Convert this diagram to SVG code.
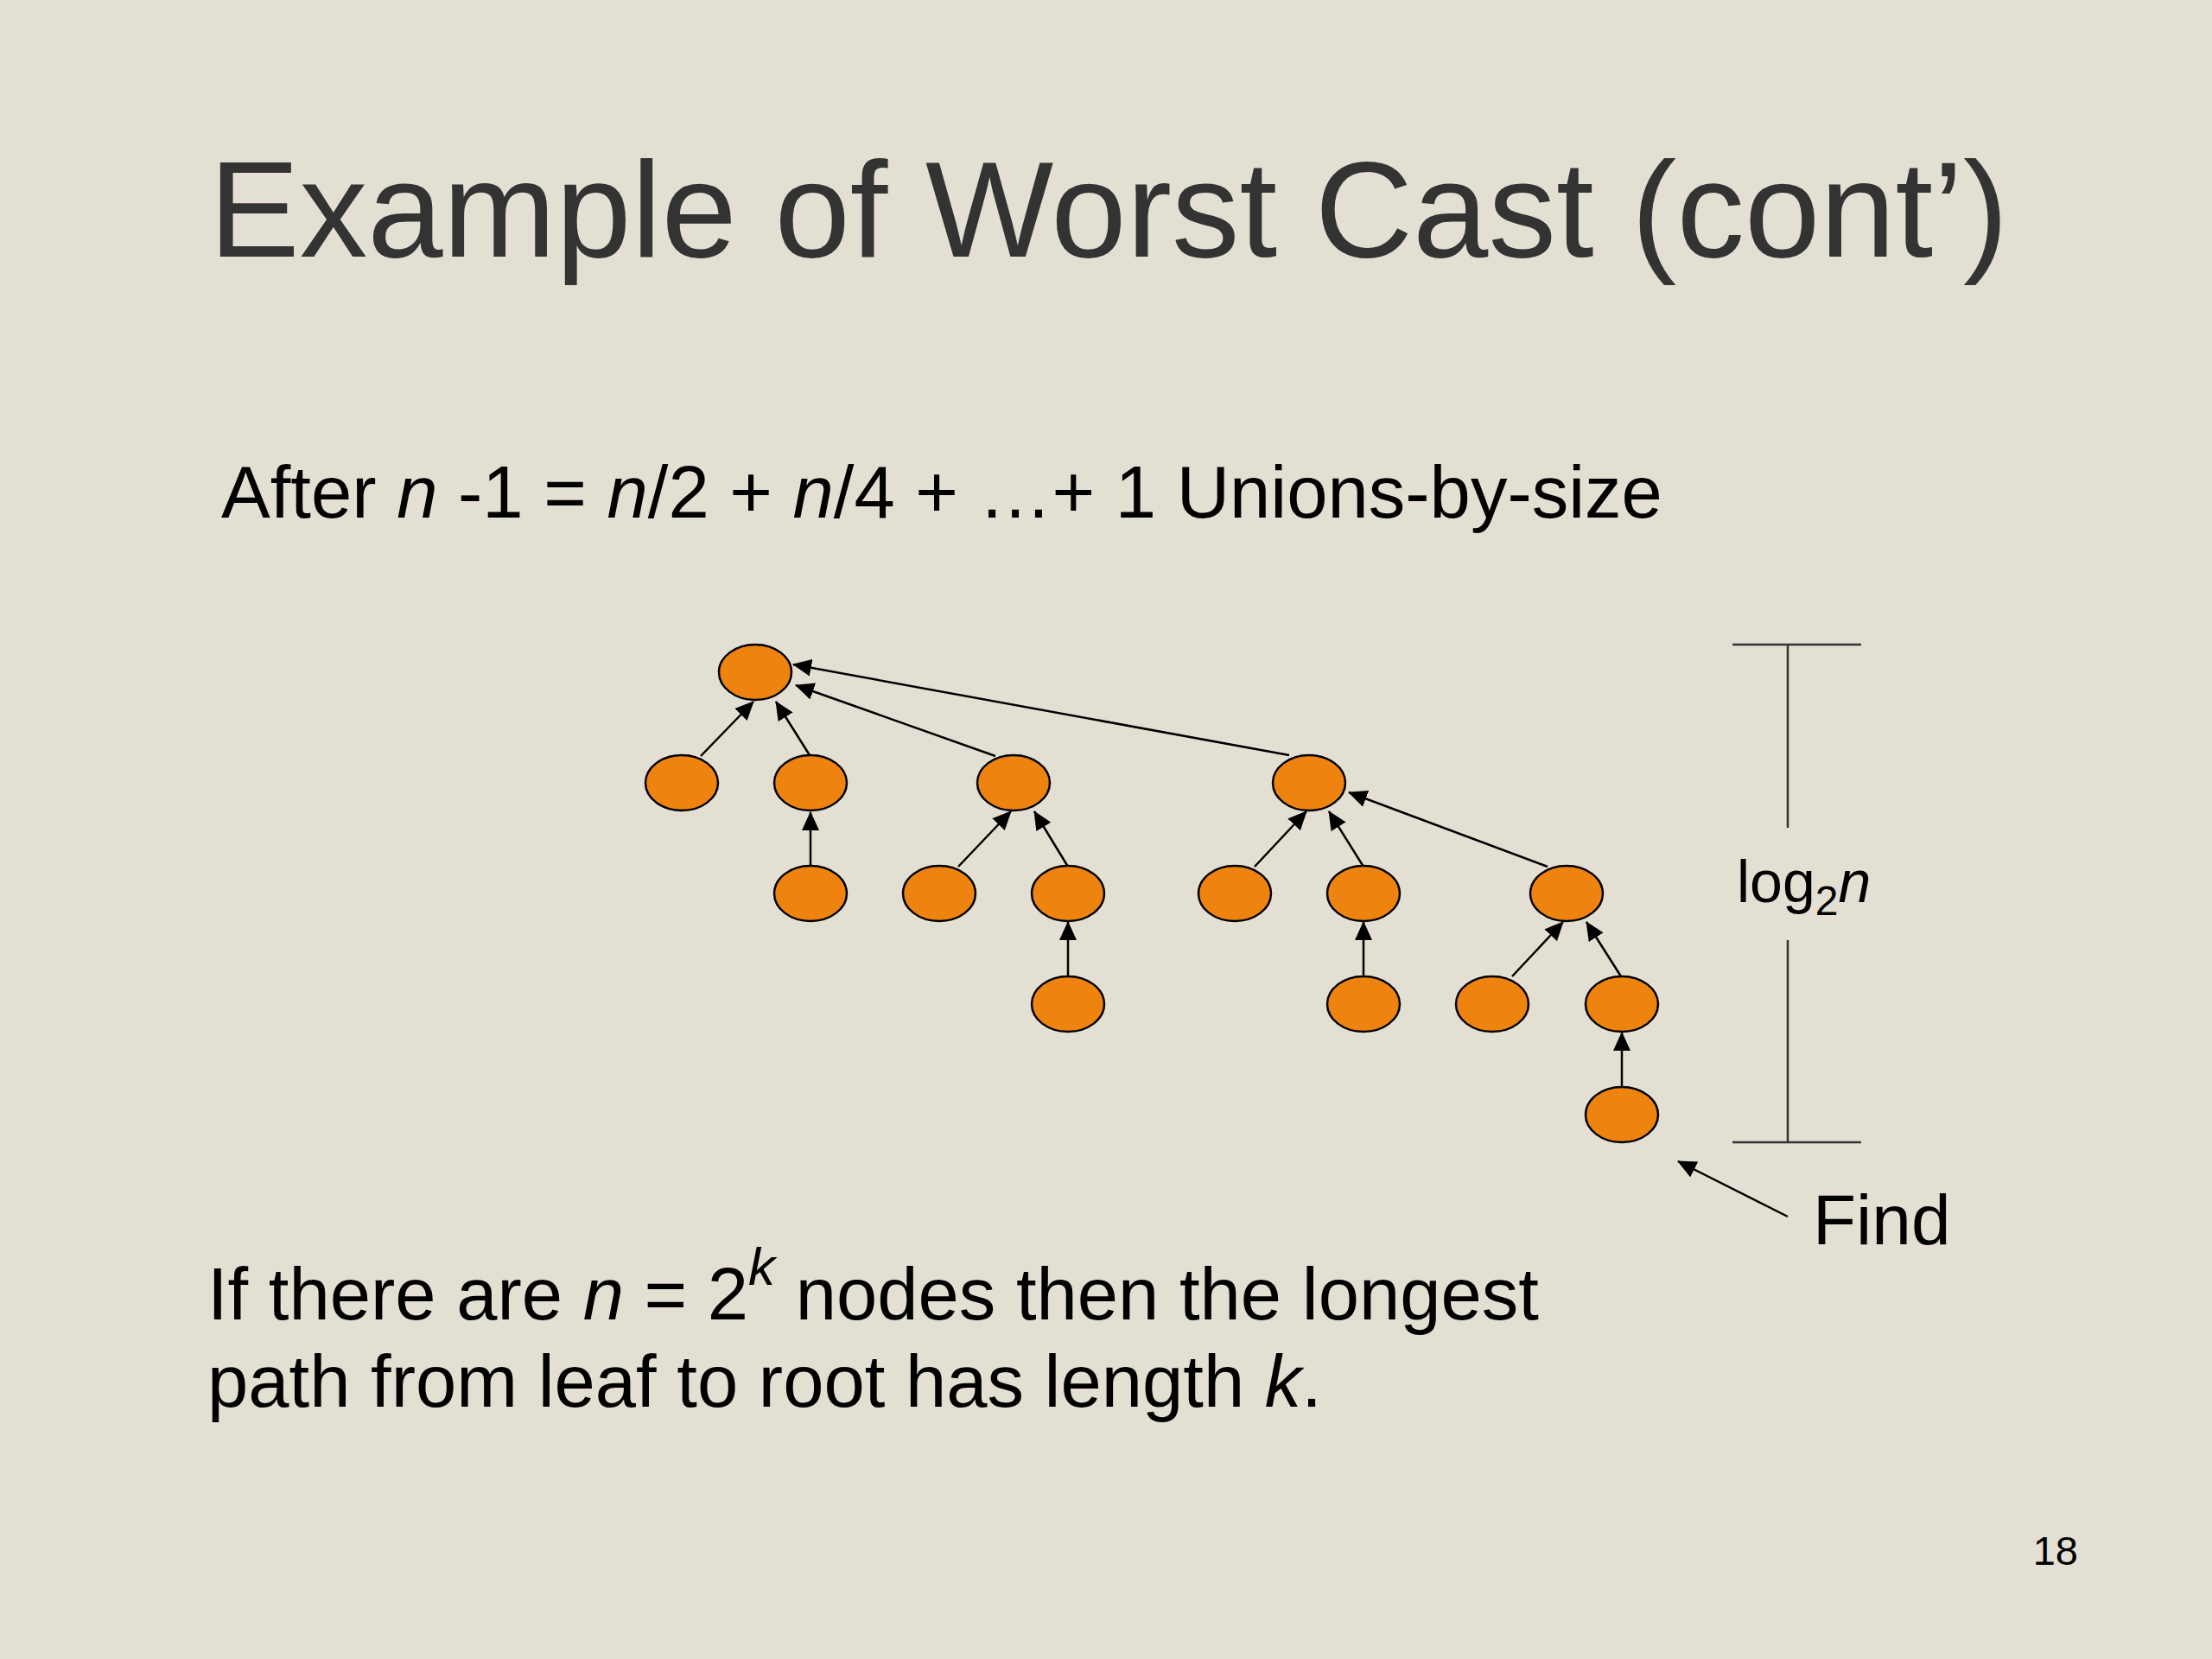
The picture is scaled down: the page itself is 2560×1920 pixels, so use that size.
<svg xmlns="http://www.w3.org/2000/svg" width="2560" height="1920" viewBox="0 0 2560 1920">
<defs>
<style>
.bg{fill:#E3DFD3}
.title{font-family:"Liberation Sans",Arial,sans-serif;font-size:157px;fill:#333333}
.body{font-family:"Liberation Sans",Arial,sans-serif;font-size:85px;fill:#000}
.lbl{font-family:"Liberation Sans",Arial,sans-serif;fill:#000}
.node{fill:#EE840F;stroke:#000;stroke-width:2.5}
.edge{stroke:#000;stroke-width:2.5;fill:none;marker-end:url(#ah)}
.bar{stroke:#333;stroke-width:2.5;fill:none}
</style>
<marker id="ah" markerUnits="userSpaceOnUse" markerWidth="22" markerHeight="20" refX="21" refY="10" orient="auto" viewBox="0 0 22 20">
<path d="M0,0 L22,10 L0,20 z" fill="#000"/>
</marker>
</defs>
<rect class="bg" x="0" y="0" width="2560" height="1920"/>
<text class="title" x="242" y="297">Example of Worst Cast (cont’)</text>
<text class="body" x="256" y="599">After <tspan font-style="italic">n</tspan> -1 = <tspan font-style="italic">n</tspan>/2 + <tspan font-style="italic">n</tspan>/4 + …+ 1 Unions-by-size</text>
<text class="body" x="240" y="1527">If there are <tspan font-style="italic">n</tspan> = 2<tspan font-style="italic" font-size="62" dy="-40">k</tspan><tspan dy="40"> nodes then the longest</tspan></text>
<text class="body" x="240" y="1628">path from leaf to root has length <tspan font-style="italic">k</tspan>.</text>
<text class="lbl" x="2405" y="1811" font-size="47" text-anchor="end">18</text>

<g id="connectors">
<line class="edge" x1="811" y1="875" x2="872" y2="812"/>
<line class="edge" x1="937" y1="874" x2="898" y2="812"/>
<line class="edge" x1="1152" y1="875" x2="921" y2="793"/>
<line class="edge" x1="1492" y1="874" x2="918" y2="769"/>
<line class="edge" x1="938" y1="1002" x2="938" y2="940"/>
<line class="edge" x1="1109" y1="1003" x2="1170" y2="939"/>
<line class="edge" x1="1236" y1="1003" x2="1197" y2="939"/>
<line class="edge" x1="1236" y1="1130" x2="1236" y2="1067"/>
<line class="edge" x1="1452" y1="1003" x2="1512" y2="939"/>
<line class="edge" x1="1578" y1="1003" x2="1538" y2="939"/>
<line class="edge" x1="1578" y1="1130" x2="1578" y2="1067"/>
<line class="edge" x1="1791" y1="1003" x2="1561" y2="917"/>
<line class="edge" x1="1750" y1="1130" x2="1809" y2="1067"/>
<line class="edge" x1="1876" y1="1130" x2="1836" y2="1067"/>
<line class="edge" x1="1877" y1="1257" x2="1877" y2="1195"/>
<line class="edge" x1="2069" y1="1408" x2="1942" y2="1344"/>
</g>

<g id="root"><ellipse class="node" cx="874" cy="778" rx="42" ry="32"/></g>
<g id="n-a"><ellipse class="node" cx="789" cy="906" rx="42" ry="32"/></g>
<g id="n-b"><ellipse class="node" cx="938" cy="906" rx="42" ry="32"/></g>
<g id="n-c"><ellipse class="node" cx="1173" cy="906" rx="42" ry="32"/></g>
<g id="n-d"><ellipse class="node" cx="1515" cy="906" rx="42" ry="32"/></g>
<g id="n-b1"><ellipse class="node" cx="938" cy="1034" rx="42" ry="32"/></g>
<g id="n-c1"><ellipse class="node" cx="1087" cy="1034" rx="42" ry="32"/></g>
<g id="n-c2"><ellipse class="node" cx="1236" cy="1034" rx="42" ry="32"/></g>
<g id="n-d1"><ellipse class="node" cx="1429" cy="1034" rx="42" ry="32"/></g>
<g id="n-d2"><ellipse class="node" cx="1578" cy="1034" rx="42" ry="32"/></g>
<g id="n-e"><ellipse class="node" cx="1813" cy="1034" rx="42" ry="32"/></g>
<g id="n-c21"><ellipse class="node" cx="1236" cy="1162" rx="42" ry="32"/></g>
<g id="n-d21"><ellipse class="node" cx="1578" cy="1162" rx="42" ry="32"/></g>
<g id="n-e1"><ellipse class="node" cx="1727" cy="1162" rx="42" ry="32"/></g>
<g id="n-e2"><ellipse class="node" cx="1877" cy="1162" rx="42" ry="32"/></g>
<g id="n-e21"><ellipse class="node" cx="1877" cy="1290" rx="42" ry="32"/></g>

<g id="height-bar">
<line class="bar" x1="2005" y1="746" x2="2154" y2="746"/>
<line class="bar" x1="2005" y1="1322" x2="2154" y2="1322"/>
<line class="bar" x1="2069" y1="746" x2="2069" y2="958"/>
<line class="bar" x1="2069" y1="1088" x2="2069" y2="1322"/>
<text class="lbl" x="2010" y="1044" font-size="68">log<tspan font-size="48" dy="15">2</tspan><tspan font-style="italic" dy="-15">n</tspan></text>
</g>
<g id="find"><text class="lbl" x="2098" y="1440" font-size="82">Find</text></g>
</svg>
